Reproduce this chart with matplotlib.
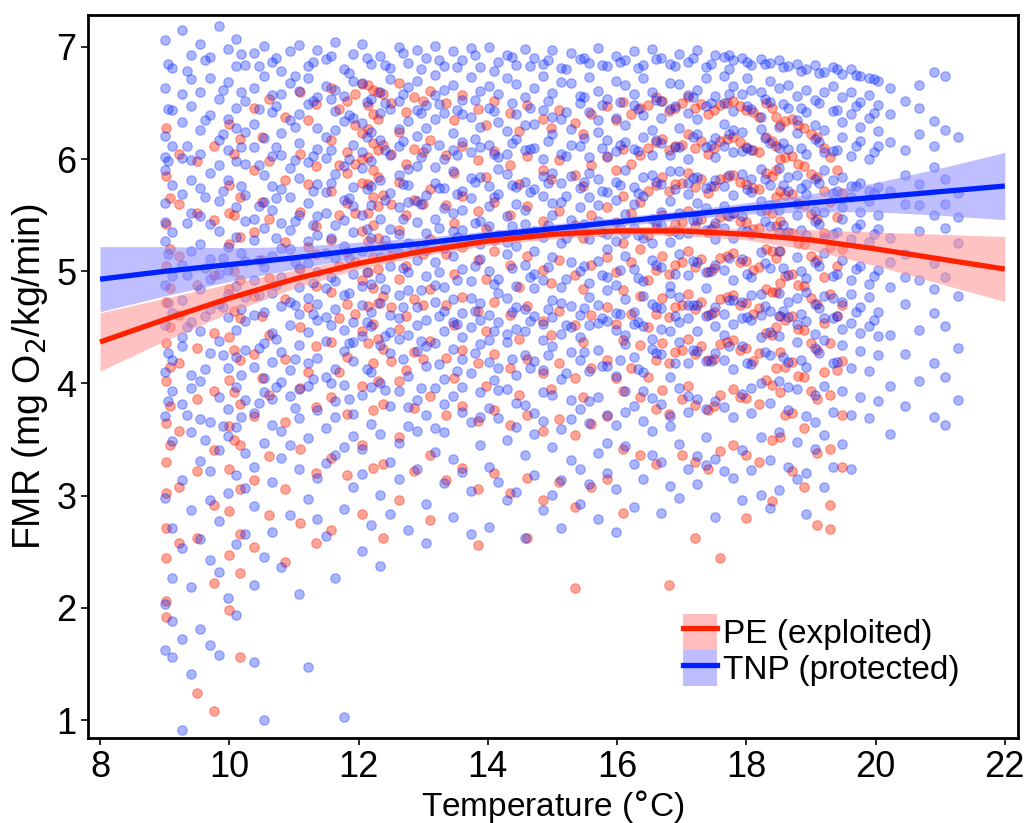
import matplotlib.pyplot as plt
from matplotlib.patches import Patch
from matplotlib.lines import Line2D

plt.rcParams['font.family'] = ['Liberation Sans', 'DejaVu Sans']

# TNP (protected): temperature columns and the FMR values read at each
tnp_temp = [9.0, 9.12, 9.27, 9.41, 9.55, 9.7, 9.84, 9.98, 10.11, 10.25, 10.39, 10.53, 10.66, 10.8,
            10.94, 11.08, 11.22, 11.36, 11.5, 11.64, 11.78, 11.92, 12.06, 12.2, 12.34, 12.48, 12.62,
            12.76, 12.9, 13.04, 13.18, 13.32, 13.46, 13.6, 13.74, 13.88, 14.02, 14.16, 14.3, 14.44,
            14.58, 14.72, 14.86, 15.0, 15.14, 15.28, 15.42, 15.56, 15.7, 15.84, 15.98, 16.12, 16.26,
            16.4, 16.54, 16.68, 16.82, 16.96, 17.1, 17.24, 17.38, 17.52, 17.66, 17.8, 17.94, 18.08,
            18.22, 18.36, 18.5, 18.64, 18.78, 18.92, 19.06, 19.2, 19.34, 19.48, 19.62, 19.76, 19.9,
            20.04, 20.22, 20.45, 20.68, 20.9, 21.08, 21.27,
            9.05, 9.34, 9.63, 9.91, 10.18, 10.46, 10.73, 11.01, 11.29, 11.57, 11.85, 12.13, 12.41,
            12.69, 12.97, 13.25, 13.53, 13.81, 14.09, 14.37, 14.65, 14.93, 15.21, 15.49, 15.77,
            16.05, 16.33, 16.61, 16.89, 17.17, 17.45, 17.73, 18.01, 18.29, 18.57, 18.85, 19.13,
            19.41, 19.69, 19.97]
tnp_fmr = [
    [7.06, 6.63, 6.21, 5.9, 5.61, 5.27, 4.88, 4.52, 4.1, 3.71, 2.98, 2.03, 1.62, 5.44, 6.02],
    [6.81, 6.12, 5.77, 5.35, 4.96, 4.63, 4.21, 3.49, 2.71, 2.27, 1.88, 1.56, 6.44, 3.93],
    [7.15, 6.58, 6.33, 5.69, 5.06, 4.74, 4.33, 3.82, 3.14, 2.53, 1.72, 0.91, 6.01, 4.41],
    [6.93, 6.47, 5.99, 5.52, 5.18, 4.55, 3.96, 3.57, 2.87, 2.19, 1.41, 6.71, 5.81, 4.08],
    [7.03, 6.26, 6.05, 5.74, 5.24, 4.84, 4.02, 3.31, 2.61, 1.81, 6.6, 4.47, 3.68, 5.49],
    [6.72, 6.39, 5.88, 5.42, 5.11, 4.66, 4.27, 3.66, 2.96, 2.43, 1.67, 6.91, 4.93, 3.22],
    [7.19, 6.54, 6.17, 5.63, 5.36, 4.71, 4.38, 3.88, 3.41, 2.32, 1.58, 5.95, 4.98, 2.77],
    [6.98, 6.69, 6.08, 5.81, 5.22, 5.01, 4.59, 4.14, 3.53, 3.02, 2.09, 6.36, 4.8, 3.77],
    [7.07, 6.46, 6.28, 5.57, 5.31, 4.87, 4.48, 3.97, 3.61, 3.18, 2.57, 1.94, 6.83, 5.98, 4.24],
    [6.84, 6.52, 5.96, 5.68, 5.09, 4.77, 4.3, 3.85, 3.38, 2.66, 6.24, 5.45, 4.56, 3.07],
    [6.95, 6.31, 6.11, 5.47, 5.28, 4.92, 4.15, 3.74, 3.26, 2.91, 2.2, 1.52, 6.63, 4.61],
    [7.01, 6.74, 6.19, 5.86, 5.39, 5.04, 4.64, 4.36, 3.92, 3.47, 2.45, 1.0, 5.62, 4.05],
    [6.87, 6.42, 6.03, 5.55, 5.14, 4.81, 4.45, 3.63, 3.12, 2.68, 6.57, 5.76, 4.19, 3.86],
    [6.79, 6.58, 6.23, 5.73, 5.43, 4.95, 4.28, 4.01, 3.58, 2.36, 6.04, 5.21, 4.69, 3.34],
    [6.96, 6.35, 5.92, 5.66, 5.2, 4.73, 4.52, 3.89, 3.45, 2.83, 6.68, 5.37, 4.12],
    [7.02, 6.61, 6.14, 5.83, 5.5, 5.03, 4.62, 4.34, 3.69, 3.24, 2.12, 6.4, 4.86, 3.95],
    [6.83, 6.49, 5.97, 5.61, 5.27, 4.76, 4.46, 3.98, 3.51, 2.97, 1.47, 6.72, 5.07, 4.18],
    [6.97, 6.28, 6.09, 5.78, 5.32, 4.99, 4.57, 4.23, 3.76, 3.16, 6.55, 5.49, 4.71, 2.79],
    [6.89, 6.65, 6.2, 5.52, 5.16, 4.85, 4.38, 4.06, 3.6, 2.64, 6.01, 5.71, 4.59, 3.29],
    [7.04, 6.43, 6.26, 5.87, 5.41, 5.12, 4.66, 4.13, 3.84, 3.36, 2.27, 6.62, 4.91, 3.7],
    [6.8, 6.56, 5.94, 5.64, 5.23, 4.79, 4.29, 3.99, 3.43, 2.88, 1.03, 6.34, 5.46, 4.48],
    [6.94, 6.37, 6.13, 5.75, 5.35, 4.98, 4.55, 4.2, 3.73, 3.08, 6.7, 5.58, 4.37, 3.53],
    [7.03, 6.68, 6.32, 5.92, 5.5, 5.18, 4.7, 4.42, 3.9, 3.42, 2.51, 6.06, 4.87, 3.19],
    [6.85, 6.24, 5.98, 5.59, 5.3, 4.89, 4.51, 4.1, 3.64, 2.74, 6.54, 5.76, 4.64, 3.97],
    [6.92, 6.6, 6.17, 5.81, 5.13, 4.94, 4.34, 4.0, 3.55, 3.01, 6.41, 5.47, 4.72, 2.37],
    [6.81, 6.45, 6.04, 5.7, 5.38, 5.05, 4.61, 4.27, 3.8, 3.3, 2.84, 6.71, 5.22, 4.46],
    [7.0, 6.52, 6.27, 5.86, 5.57, 5.16, 4.79, 4.4, 3.93, 3.47, 6.12, 5.33, 4.58, 3.15],
    [6.86, 6.34, 5.91, 5.62, 5.25, 4.83, 4.43, 4.07, 3.62, 2.69, 6.64, 5.77, 4.99, 3.79],
    [6.97, 6.7, 6.21, 5.94, 5.44, 5.1, 4.68, 4.29, 3.85, 3.24, 6.44, 5.63, 4.52, 3.58],
    [6.9, 6.48, 6.1, 5.68, 5.34, 4.96, 4.57, 4.16, 3.72, 2.93, 2.58, 6.28, 5.19, 4.33],
    [7.01, 6.57, 6.36, 5.79, 5.47, 5.08, 4.73, 4.36, 3.96, 3.39, 6.75, 5.93, 4.88, 3.6],
    [6.83, 6.41, 6.0, 5.56, 5.21, 4.86, 4.47, 4.04, 3.57, 3.11, 6.62, 5.74, 4.65, 3.82],
    [6.96, 6.66, 6.23, 5.89, 5.52, 5.14, 4.75, 4.31, 3.89, 3.33, 6.08, 5.36, 4.55, 2.81],
    [6.88, 6.53, 6.15, 5.72, 5.37, 5.02, 4.63, 4.22, 3.75, 3.21, 6.4, 5.55, 4.41, 3.97],
    [6.99, 6.38, 6.06, 5.65, 5.28, 4.91, 4.5, 4.09, 3.66, 3.04, 6.73, 5.83, 4.76, 2.66],
    [6.82, 6.61, 6.29, 5.84, 5.45, 5.11, 4.72, 4.35, 3.92, 3.45, 6.11, 5.24, 4.57, 3.7],
    [7.0, 6.46, 6.13, 5.76, 5.4, 5.0, 4.61, 4.19, 3.78, 3.26, 2.72, 6.65, 5.58, 4.39],
    [6.87, 6.58, 6.02, 5.69, 5.32, 4.93, 4.55, 4.14, 3.69, 3.12, 6.33, 5.91, 4.81, 3.94],
    [6.93, 6.72, 6.25, 5.87, 5.49, 5.15, 4.76, 4.37, 3.95, 3.5, 6.05, 5.26, 4.44, 2.96],
    [6.84, 6.4, 6.18, 5.6, 5.23, 4.87, 4.49, 4.08, 3.61, 3.03, 6.67, 5.75, 4.68, 3.83],
    [6.98, 6.55, 6.08, 5.8, 5.42, 5.06, 4.66, 4.25, 3.81, 3.36, 6.3, 5.55, 4.47, 2.62],
    [6.9, 6.63, 6.31, 5.73, 5.36, 4.98, 4.6, 4.2, 3.74, 3.18, 6.1, 5.18, 4.85, 3.55],
    [6.85, 6.44, 6.0, 5.67, 5.31, 4.92, 4.53, 4.12, 3.67, 2.87, 6.74, 5.85, 4.39, 3.92],
    [6.97, 6.59, 6.22, 5.88, 5.5, 5.13, 4.74, 4.33, 3.9, 3.43, 6.38, 5.61, 4.59, 3.01],
    [6.81, 6.36, 6.05, 5.62, 5.25, 4.86, 4.44, 4.04, 3.59, 3.14, 6.69, 5.79, 4.72, 2.71],
    [6.95, 6.68, 6.27, 5.85, 5.46, 5.08, 4.69, 4.28, 3.85, 3.32, 6.13, 5.35, 4.5, 3.68],
    [6.89, 6.5, 6.12, 5.74, 5.38, 5.0, 4.61, 4.21, 3.77, 3.24, 6.56, 5.57, 4.41, 2.93],
    [6.86, 6.42, 6.02, 5.66, 5.29, 4.9, 4.52, 4.11, 3.65, 3.1, 6.73, 5.88, 4.77, 3.84],
    [6.99, 6.61, 6.24, 5.82, 5.45, 5.09, 4.7, 4.3, 3.88, 3.38, 6.35, 5.59, 4.54, 2.79],
    [6.83, 6.54, 6.17, 5.71, 5.33, 4.95, 4.56, 4.16, 3.72, 3.2, 6.03, 5.2, 4.83, 3.47],
    [6.92, 6.37, 6.07, 5.64, 5.27, 4.88, 4.48, 4.07, 3.63, 3.06, 6.7, 5.8, 4.63, 2.68],
    [6.88, 6.66, 6.3, 5.9, 5.51, 5.14, 4.75, 4.35, 3.93, 3.44, 6.15, 5.34, 4.43, 3.75],
    [6.96, 6.48, 6.09, 5.75, 5.39, 5.02, 4.64, 4.24, 3.8, 3.28, 6.58, 5.6, 4.53, 2.9],
    [6.84, 6.39, 6.2, 5.67, 5.3, 4.91, 4.51, 4.1, 3.67, 3.15, 6.72, 5.84, 4.78, 3.93],
    [6.98, 6.6, 6.26, 5.86, 5.47, 5.1, 4.71, 4.31, 3.87, 3.36, 6.04, 5.25, 4.4, 3.58],
    [6.9, 6.52, 6.14, 5.78, 5.41, 5.04, 4.67, 4.26, 3.82, 3.3, 2.85, 6.37, 5.53, 4.49],
    [6.85, 6.45, 6.04, 5.63, 5.26, 4.87, 4.47, 4.06, 3.62, 3.09, 6.68, 5.89, 4.81, 3.71],
    [6.94, 6.67, 6.28, 5.89, 5.52, 5.15, 4.77, 4.37, 3.96, 3.46, 6.11, 5.33, 4.55, 2.98],
    [6.87, 6.41, 6.0, 5.69, 5.34, 4.97, 4.58, 4.18, 3.75, 3.24, 6.57, 5.79, 4.7, 3.89],
    [6.97, 6.62, 6.22, 5.84, 5.46, 5.08, 4.7, 4.29, 3.86, 3.35, 6.36, 5.61, 4.47, 3.1],
    [6.82, 6.47, 6.11, 5.74, 5.37, 4.99, 4.6, 4.2, 3.77, 3.27, 6.72, 5.56, 4.85, 3.52],
    [6.93, 6.56, 6.19, 5.81, 5.43, 5.06, 4.68, 4.27, 3.84, 3.33, 2.81, 6.02, 5.29, 4.51],
    [6.91, 6.74, 6.5, 6.12, 5.76, 5.39, 5.01, 4.62, 4.21, 3.79, 3.22, 6.31, 5.58, 4.43],
    [6.88, 6.65, 6.43, 6.06, 5.68, 5.3, 4.92, 4.53, 4.13, 3.7, 3.16, 6.26, 5.52, 4.74],
    [6.9, 6.58, 6.24, 5.87, 5.49, 5.11, 4.73, 4.33, 3.91, 3.41, 2.96, 6.07, 5.36, 4.58],
    [6.84, 6.45, 6.08, 5.71, 5.33, 4.95, 4.57, 4.17, 3.74, 3.23, 6.62, 5.82, 4.79, 3.96],
    [6.89, 6.6, 6.27, 5.91, 5.54, 5.17, 4.8, 4.41, 4.0, 3.52, 3.01, 6.38, 5.63, 4.61],
    [6.86, 6.51, 6.14, 5.77, 5.4, 5.03, 4.65, 4.25, 3.83, 3.32, 6.7, 5.59, 4.46, 2.89],
    [6.88, 6.63, 6.29, 5.92, 5.55, 5.18, 4.81, 4.42, 4.02, 3.57, 3.05, 6.1, 5.35, 4.6],
    [6.83, 6.46, 6.09, 5.72, 5.35, 4.97, 4.59, 4.19, 3.76, 3.26, 6.66, 5.84, 4.73, 3.97],
    [6.85, 6.56, 6.23, 5.86, 5.5, 5.13, 4.76, 4.37, 3.95, 3.48, 6.35, 5.6, 4.53, 3.15],
    [6.8, 6.42, 6.05, 5.69, 5.32, 4.94, 4.56, 4.15, 3.71, 3.2, 6.62, 5.78, 4.82, 2.84],
    [6.84, 6.53, 6.18, 5.82, 5.45, 5.08, 4.71, 4.32, 3.9, 3.42, 6.3, 5.54, 4.44, 3.66],
    [6.78, 6.6, 6.26, 5.9, 5.53, 5.16, 4.78, 4.39, 3.98, 3.54, 3.08, 6.06, 5.3, 4.58],
    [6.82, 6.43, 6.07, 5.7, 5.33, 4.96, 4.58, 4.18, 3.75, 3.26, 6.65, 5.81, 4.76],
    [6.76, 6.55, 6.2, 5.84, 5.47, 5.1, 4.73, 4.34, 3.93, 3.46, 6.33, 5.57, 4.49],
    [6.8, 6.4, 6.03, 5.66, 5.29, 4.92, 4.54, 4.14, 3.72, 3.24, 6.6, 5.76, 4.8],
    [6.74, 6.51, 6.16, 5.79, 5.42, 5.05, 4.68, 4.29, 3.88, 6.29, 5.53, 4.45],
    [6.72, 6.37, 6.0, 5.63, 5.26, 4.89, 4.51, 4.11, 3.69, 6.57, 5.72, 4.77],
    [6.7, 6.48, 6.12, 5.75, 5.38, 5.01, 4.64, 4.25, 3.84, 6.25, 5.5, 4.42],
    [6.63, 6.15, 5.72, 5.3, 4.86, 4.43, 3.98, 3.55, 6.4, 5.08],
    [6.52, 6.08, 5.6, 5.15, 4.71, 4.26, 3.8, 5.86, 4.95],
    [6.66, 6.22, 5.78, 5.36, 4.92, 4.48, 4.02, 6.46, 5.59],
    [6.78, 6.34, 5.93, 5.5, 5.07, 4.63, 4.18, 3.7, 6.12, 4.84],
    [6.74, 6.26, 5.82, 5.39, 4.95, 4.51, 4.06, 3.63, 5.6],
    [6.2, 5.7, 5.25, 4.78, 4.32, 3.85, 5.48],
    # extra readings in the dense band
    [6.45, 5.98, 5.15, 4.72, 4.27, 3.84, 6.85],
    [6.79, 6.12, 5.43, 4.97, 4.5, 3.72],
    [6.88, 6.35, 5.66, 5.03, 4.6, 4.13, 3.5],
    [6.62, 6.22, 5.72, 5.12, 4.68, 4.25, 3.62],
    [6.94, 6.6, 6.11, 5.76, 5.16, 4.66, 4.08, 3.7],
    [6.83, 6.45, 5.95, 5.58, 5.1, 4.79, 4.32, 3.83],
    [6.9, 6.47, 6.11, 5.65, 5.3, 4.88, 4.4, 3.97],
    [6.74, 6.29, 5.99, 5.45, 5.08, 4.7, 4.22, 3.78],
    [6.87, 6.52, 6.03, 5.72, 5.41, 4.9, 4.62, 4.04],
    [6.92, 6.54, 6.08, 5.79, 5.3, 4.95, 4.52, 4.0],
    [6.77, 6.39, 6.0, 5.65, 5.12, 4.81, 4.36, 3.86],
    [6.9, 6.51, 6.2, 5.73, 5.38, 4.99, 4.55, 4.13],
    [6.84, 6.5, 6.08, 5.64, 5.28, 4.84, 4.42, 3.94],
    [6.95, 6.58, 6.16, 5.78, 5.47, 5.03, 4.68, 4.22],
    [6.8, 6.41, 6.02, 5.6, 5.2, 4.83, 4.38, 3.96],
    [6.88, 6.49, 6.13, 5.74, 5.39, 4.99, 4.6, 4.17],
    [6.82, 6.44, 6.04, 5.69, 5.31, 4.92, 4.53, 4.11],
    [6.93, 6.53, 6.18, 5.8, 5.43, 5.05, 4.65, 4.27],
    [6.79, 6.43, 6.05, 5.66, 5.28, 4.89, 4.47, 4.03],
    [6.91, 6.5, 6.14, 5.77, 5.4, 5.03, 4.64, 4.22],
    [6.83, 6.46, 6.09, 5.71, 5.33, 4.95, 4.56, 4.14],
    [6.88, 6.52, 6.16, 5.79, 5.41, 5.04, 4.66, 4.25],
    [6.8, 6.42, 6.03, 5.67, 5.3, 4.93, 4.52, 4.09],
    [6.9, 6.55, 6.19, 5.8, 5.42, 5.05, 4.67, 4.28],
    [6.84, 6.48, 6.1, 5.72, 5.35, 4.97, 4.58, 4.16],
    [6.87, 6.51, 6.13, 5.77, 5.39, 5.01, 4.62, 4.21],
    [6.81, 6.45, 6.07, 5.7, 5.32, 4.94, 4.55, 4.13],
    [6.89, 6.53, 6.17, 5.8, 5.43, 5.06, 4.68, 4.27],
    [6.83, 6.47, 6.11, 5.73, 5.36, 4.98, 4.6, 4.18],
    [6.9, 6.55, 6.2, 5.83, 5.46, 5.09, 4.7, 4.3],
    [6.85, 6.5, 6.13, 5.76, 5.38, 5.0, 4.62, 4.2],
    [6.93, 6.8, 6.58, 6.22, 5.86, 5.49, 5.12, 4.74, 4.33],
    [6.87, 6.72, 6.47, 6.1, 5.73, 5.36, 4.98, 4.59, 4.18],
    [6.85, 6.54, 6.19, 5.82, 5.45, 5.07, 4.69, 4.28],
    [6.82, 6.49, 6.14, 5.77, 5.41, 5.03, 4.65, 4.24],
    [6.79, 6.46, 6.1, 5.74, 5.37, 5.0, 4.62, 4.21],
    [6.77, 6.5, 6.15, 5.79, 5.42, 5.05, 4.67, 4.27],
    [6.8, 6.44, 6.08, 5.72, 5.35, 4.98, 4.6, 4.19],
    [6.75, 6.47, 6.12, 5.76, 5.39, 5.02, 4.64],
    [6.71, 6.41, 6.06, 5.7, 5.33, 4.96, 4.57],
]

# PE (exploited): temperature columns and the FMR values read at each
pe_temp = [9.02, 9.22, 9.5, 9.76, 10.0, 10.16, 10.38, 10.62, 10.86, 11.1, 11.34, 11.58, 11.82, 12.06,
           12.22, 12.38, 12.62, 12.86, 13.1, 13.35, 13.6, 13.85, 14.1, 14.35, 14.6, 14.85, 15.1,
           15.35, 15.6, 15.85, 16.1, 16.35, 16.6, 16.8, 17.0, 17.2, 17.4, 17.6, 17.8, 18.0, 18.2,
           18.4, 18.52, 18.7, 18.9, 19.1, 19.3, 19.48,
           9.08, 10.08, 10.5, 11.22, 11.7, 11.95, 12.14, 12.3, 12.5, 12.74, 13.0, 13.48, 13.98,
           14.48, 14.98, 15.48, 15.98, 16.22, 16.48, 16.7, 16.9, 17.1, 17.3, 17.5, 17.7, 17.9,
           18.1, 18.3, 18.46, 18.6, 18.8, 19.0, 19.2, 19.4]
pe_fmr = [
    [6.28, 5.85, 5.42, 5.05, 4.73, 4.36, 4.02, 3.65, 3.3, 3.02, 2.71, 2.44, 2.06, 1.92],
    [6.05, 5.6, 5.14, 4.61, 4.18, 3.58, 3.08, 2.58],
    [5.52, 4.88, 4.32, 3.86, 3.22, 2.62, 1.24, 5.98],
    [6.12, 5.46, 4.97, 4.45, 3.93, 3.41, 2.92, 1.08, 2.22],
    [6.31, 5.77, 5.24, 4.84, 4.41, 4.03, 3.62, 3.24, 2.86, 2.47, 1.98, 5.52],
    [6.18, 5.66, 5.31, 4.92, 4.58, 4.21, 3.82, 3.45, 3.06, 2.66, 2.31, 1.56],
    [6.46, 5.9, 5.35, 4.78, 4.26, 3.71, 3.14, 2.54],
    [6.54, 5.98, 5.47, 4.94, 4.43, 3.9, 3.35, 2.83],
    [6.38, 5.81, 5.26, 4.75, 4.22, 3.66, 3.06, 2.41],
    [6.6, 6.05, 5.53, 5.02, 4.5, 3.96, 3.42, 2.76],
    [6.49, 5.94, 5.4, 4.87, 4.33, 3.79, 3.2, 2.58, 5.15],
    [6.63, 6.17, 5.72, 5.28, 4.82, 4.37, 3.88, 3.34, 2.69],
    [6.52, 6.06, 5.61, 5.17, 4.71, 4.24, 3.73, 3.18, 5.88],
    [6.67, 6.23, 5.79, 5.36, 4.92, 4.47, 3.98, 3.45, 2.84, 6.0],
    [6.62, 6.4, 6.14, 5.9, 5.66, 5.41, 5.13, 4.85, 4.53, 4.18, 3.76, 3.25],
    [6.58, 6.13, 5.68, 5.23, 4.78, 4.31, 3.82, 3.28, 2.62],
    [6.68, 6.24, 5.8, 5.37, 4.93, 4.49, 4.02, 3.52, 2.96],
    [6.55, 6.09, 5.64, 5.2, 4.75, 4.28, 3.78, 3.22],
    [6.61, 6.17, 5.73, 5.29, 4.84, 4.38, 3.89, 3.36, 2.78],
    [6.5, 6.04, 5.59, 5.15, 4.7, 4.23, 3.72, 3.14],
    [6.57, 6.12, 5.67, 5.22, 4.77, 4.3, 3.8, 3.25],
    [6.45, 5.99, 5.54, 5.1, 4.65, 4.18, 3.67, 3.06, 2.56],
    [6.52, 6.07, 5.62, 5.18, 4.73, 4.26, 3.76, 3.2],
    [6.41, 5.95, 5.5, 5.06, 4.61, 4.14, 3.63, 3.02],
    [6.48, 6.03, 5.58, 5.14, 4.69, 4.22, 3.72, 3.16, 2.62],
    [6.36, 5.9, 5.45, 5.01, 4.56, 4.09, 3.58, 2.96],
    [6.44, 5.99, 5.54, 5.1, 4.65, 4.18, 3.68, 3.12],
    [6.32, 5.86, 5.41, 4.97, 4.52, 4.05, 3.54, 2.9, 2.18],
    [6.4, 5.95, 5.5, 5.06, 4.61, 4.14, 3.64, 3.08],
    [6.47, 6.02, 5.57, 5.13, 4.68, 4.21, 3.71, 3.15],
    [6.51, 6.09, 5.67, 5.25, 4.83, 4.39, 3.93, 3.42, 2.85],
    [6.46, 6.04, 5.62, 5.2, 4.78, 4.34, 3.88, 3.36],
    [6.55, 6.15, 5.77, 5.39, 5.01, 4.62, 4.21, 3.77, 3.28],
    [6.43, 6.08, 5.72, 5.36, 4.98, 4.59, 4.18, 3.73, 2.2],
    [6.5, 6.13, 5.79, 5.44, 5.08, 4.7, 4.3, 3.86, 3.36],
    [6.46, 6.1, 5.75, 5.4, 5.04, 4.66, 4.26, 3.81, 3.3, 2.62],
    [6.4, 6.05, 5.7, 5.35, 4.99, 4.61, 4.21, 3.76, 3.24],
    [6.48, 6.16, 5.82, 5.48, 5.12, 4.75, 4.35, 3.9, 3.4, 2.44],
    [6.52, 6.2, 5.86, 5.52, 5.16, 4.79, 4.39, 3.95, 3.45],
    [6.44, 6.11, 5.78, 5.44, 5.09, 4.72, 4.32, 3.87, 3.36, 2.8],
    [6.38, 6.06, 5.73, 5.39, 5.04, 4.67, 4.27, 3.82, 3.3],
    [6.46, 6.16, 5.85, 5.52, 5.18, 4.82, 4.43, 3.99, 3.5, 2.95],
    [6.3, 6.0, 5.72, 5.45, 5.18, 4.9, 4.6, 4.28, 3.92, 3.52],
    [6.36, 6.03, 5.69, 5.34, 4.98, 4.6, 4.19, 3.74, 3.22],
    [6.28, 5.94, 5.59, 5.24, 4.87, 4.48, 4.06, 3.6, 3.08],
    [6.2, 5.84, 5.47, 5.1, 4.71, 4.3, 3.86, 3.38, 2.74],
    [6.02, 5.62, 5.22, 4.8, 4.36, 3.9, 3.42, 2.7, 2.92],
    [5.7, 5.2, 4.7, 4.2, 3.72, 3.26],
    # extra readings in the dense band
    [5.65, 5.2, 4.85, 4.5, 4.15, 3.8, 3.45],
    [6.05, 5.5, 5.0, 4.65, 4.3, 3.92, 3.5],
    [6.2, 5.62, 5.1, 4.6, 4.05],
    [6.35, 5.78, 5.22, 4.68, 4.1],
    [6.45, 5.95, 5.5, 5.05, 4.58, 4.1],
    [6.58, 6.3, 5.96, 5.52, 5.08, 4.62],
    [6.66, 6.48, 6.27, 6.02, 5.78, 5.52, 5.27, 4.99, 4.69, 4.36],
    [6.6, 6.36, 6.08, 5.84, 5.58, 5.3, 5.02, 4.72, 4.4, 4.02],
    [6.5, 6.05, 5.6, 5.14, 4.68, 4.2],
    [6.42, 5.96, 5.5, 5.05, 4.6, 4.12],
    [6.52, 6.06, 5.6, 5.15, 4.7, 4.22],
    [6.35, 5.88, 5.43, 4.98, 4.52, 4.05],
    [6.3, 5.84, 5.38, 4.93, 4.47, 3.98],
    [6.25, 5.78, 5.32, 4.86, 4.4, 3.9],
    [6.28, 5.82, 5.36, 4.9, 4.43, 3.95],
    [6.22, 5.76, 5.3, 4.84, 4.37, 3.88],
    [6.35, 5.9, 5.44, 4.99, 4.53, 4.05],
    [6.4, 5.96, 5.52, 5.08, 4.62, 4.14],
    [6.48, 6.1, 5.72, 5.32, 4.92, 4.5, 4.06],
    [6.52, 6.18, 5.84, 5.5, 5.14, 4.76, 4.36, 3.94],
    [6.46, 6.12, 5.78, 5.42, 5.06, 4.68, 4.28],
    [6.55, 6.22, 5.88, 5.54, 5.18, 4.8, 4.4, 3.98],
    [6.49, 6.16, 5.82, 5.47, 5.11, 4.73, 4.33],
    [6.44, 6.1, 5.76, 5.4, 5.03, 4.64, 4.22, 3.8],
    [6.5, 6.18, 5.84, 5.5, 5.14, 4.77, 4.37],
    [6.47, 6.15, 5.8, 5.45, 5.08, 4.7, 4.3, 3.88],
    [6.42, 6.08, 5.74, 5.38, 5.01, 4.62, 4.2],
    [6.5, 6.2, 5.88, 5.55, 5.2, 4.84, 4.45, 4.03],
    [6.38, 6.12, 5.9, 5.66, 5.4, 5.12, 4.82, 4.5, 4.14],
    [6.34, 6.02, 5.68, 5.33, 4.96, 4.57, 4.15, 3.72],
    [6.3, 5.96, 5.61, 5.25, 4.88, 4.49, 4.07],
    [6.22, 5.87, 5.51, 5.14, 4.76, 4.36, 3.93],
    [6.1, 5.72, 5.34, 4.95, 4.54, 4.1],
    [5.9, 5.48, 5.05, 4.6, 4.12],
]

# fitted curves with confidence bands
fit_temp = [8, 9, 10, 11, 12, 13, 14, 15, 16, 17, 18, 19, 20, 21, 22]
tnp_fit = [4.93, 5.00, 5.06, 5.12, 5.19, 5.25, 5.32, 5.38, 5.44, 5.50, 5.56, 5.61, 5.66, 5.71, 5.76]
tnp_half = [0.29, 0.22, 0.15, 0.10, 0.07, 0.05, 0.04, 0.04, 0.04, 0.04, 0.05, 0.08, 0.13, 0.21, 0.30]
pe_fit = [4.37, 4.57, 4.76, 4.93, 5.07, 5.18, 5.27, 5.33, 5.36, 5.36, 5.33, 5.28, 5.20, 5.11, 5.02]
pe_half = [0.26, 0.19, 0.13, 0.08, 0.05, 0.04, 0.04, 0.04, 0.04, 0.04, 0.05, 0.09, 0.15, 0.22, 0.29]

RED = '#ff2200'
BLUE = '#0022ff'


def flatten(temps, cols):
    xs, ys = [], []
    for t, vals in zip(temps, cols):
        for v in vals:
            xs.append(t)
            ys.append(v)
    return xs, ys


fig = plt.figure(figsize=(10.28, 8.23), dpi=100)
ax = fig.add_axes([0.0856, 0.1033, 0.9044, 0.8785])

pe_x, pe_y = flatten(pe_temp, pe_fmr)
tnp_x, tnp_y = flatten(tnp_temp, tnp_fmr)
ax.scatter(pe_x, pe_y, s=46, facecolor=RED, edgecolor=RED, alpha=0.4, linewidths=0.9)
ax.scatter(tnp_x, tnp_y, s=46, facecolor=BLUE, edgecolor=BLUE, alpha=0.33, linewidths=0.9)

pe_lo = [m - h for m, h in zip(pe_fit, pe_half)]
pe_hi = [m + h for m, h in zip(pe_fit, pe_half)]
tnp_lo = [m - h for m, h in zip(tnp_fit, tnp_half)]
tnp_hi = [m + h for m, h in zip(tnp_fit, tnp_half)]
ax.fill_between(fit_temp, pe_lo, pe_hi, color='#ff9090', alpha=0.55, linewidth=0)
ax.fill_between(fit_temp, tnp_lo, tnp_hi, color='#8c8cff', alpha=0.55, linewidth=0)
ax.plot(fit_temp, pe_fit, color=RED, lw=3.8, solid_capstyle='butt')
ax.plot(fit_temp, tnp_fit, color=BLUE, lw=3.8, solid_capstyle='butt')

ax.set_xlim(7.814, 22.2)
ax.set_ylim(0.84, 7.285)
ax.set_xticks([8, 10, 12, 14, 16, 18, 20, 22])
ax.set_yticks([1, 2, 3, 4, 5, 6, 7])
ax.tick_params(labelsize=26, length=5, width=1.2, direction='out', colors='black')
for sp in ax.spines.values():
    sp.set_linewidth(2)
    sp.set_color('black')

ax.set_xlabel('Temperature ($\\degree$C)', fontsize=24, labelpad=2)
ax.set_ylabel('FMR (mg O$_2$/kg/min)', fontsize=27, labelpad=4)

handles = [
    (Patch(facecolor='#ffbdbd', edgecolor='none'), Line2D([], [], color=RED, lw=3.8)),
    (Patch(facecolor='#bdbdff', edgecolor='none'), Line2D([], [], color=BLUE, lw=3.8)),
]
ax.legend(handles, ['PE (exploited)', 'TNP (protected)'], loc='lower right',
          bbox_to_anchor=(0.97, 0.03), frameon=False, fontsize=24,
          handlelength=1.0, handleheight=1.3, handletextpad=0.2, labelspacing=0.0)

fig.savefig('out.png', dpi=100)
